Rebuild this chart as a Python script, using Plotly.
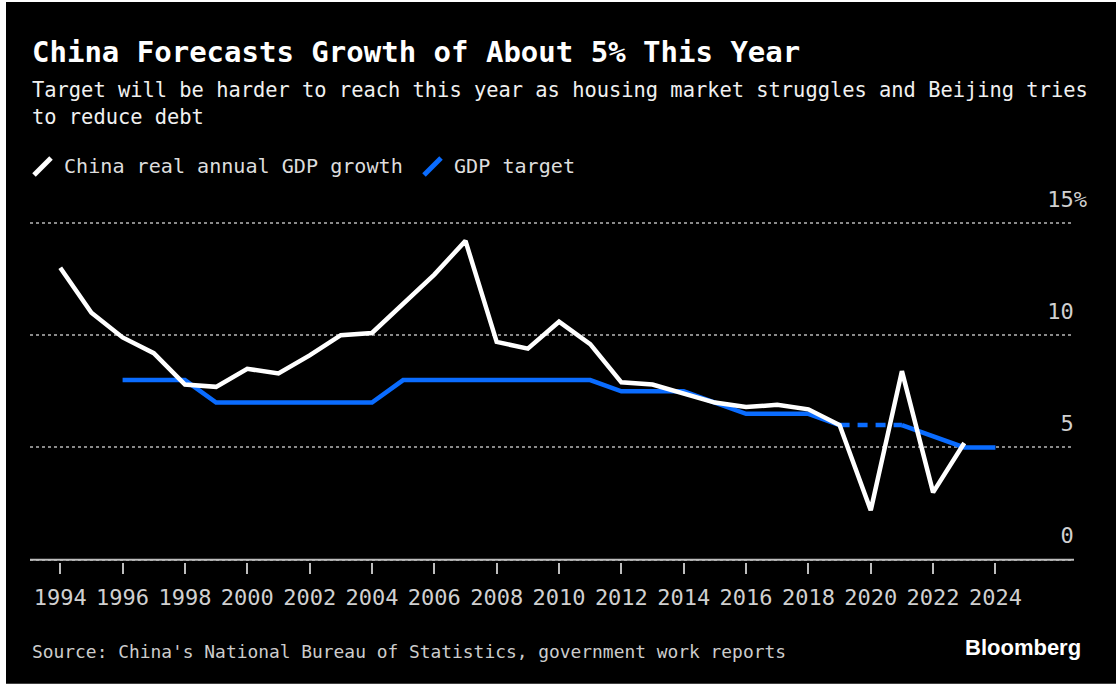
import plotly.graph_objects as go

# ---- data -------------------------------------------------------------
growth_years = list(range(1994, 2024))
gdp_growth = [13.0, 11.0, 9.9, 9.2, 7.8, 7.7, 8.5, 8.3, 9.1, 10.0,
              10.1, 11.4, 12.7, 14.2, 9.7, 9.4, 10.6, 9.6, 7.9, 7.8,
              7.4, 7.0, 6.8, 6.9, 6.7, 6.0, 2.2, 8.4, 3.0, 5.2]

target_years = list(range(1996, 2025))
gdp_target = [8.0, 8.0, 8.0, 7.0, 7.0, 7.0, 7.0, 7.0, 7.0, 8.0,
              8.0, 8.0, 8.0, 8.0, 8.0, 8.0, 7.5, 7.5, 7.5, 7.0,
              6.5, 6.5, 6.5, 6.0, None, 6.0, 5.5, 5.0, 5.0]

x_tick_vals = list(range(1994, 2025, 2))
y_tick_vals = [0, 5, 10, 15]
y_tick_text = ["0\u00a0", "5\u00a0", "10\u00a0", "15%"]

TITLE = "China Forecasts Growth of About 5% This Year"
SUBTITLE = ("Target will be harder to reach this year as housing market struggles and Beijing tries"
            "<br>to reduce debt")
SOURCE = "Source: China's National Bureau of Statistics, government work reports"
LEGEND_NAMES = ["China real annual GDP growth", "GDP target"]

# ---- styling ----------------------------------------------------------
W, H = 1119, 685
Y_MIN, Y_MAX = -0.1, 17.0
PX_PER_UNIT = 22.47
ZERO_Y = 560
PLOT_L, PLOT_R = 30, 1074
PLOT_T = ZERO_Y - Y_MAX * PX_PER_UNIT
PLOT_B = ZERO_Y - Y_MIN * PX_PER_UNIT
BLUE = "#0a6cff"
WHITE = "#ffffff"
MONO = "DejaVu Sans Mono"


def px(xp):
    return (xp - PLOT_L) / (PLOT_R - PLOT_L)


def py(yp):
    return (PLOT_B - yp) / (PLOT_B - PLOT_T)


# bridge across missing target years with a dotted segment
gap_x, gap_y = [], []
for i, v in enumerate(gdp_target):
    if v is None:
        j = i + 1
        while gdp_target[j] is None:
            j += 1
        gap_x = [target_years[i - 1], target_years[j]]
        gap_y = [gdp_target[i - 1], gdp_target[j]]

fig = go.Figure()
fig.add_trace(go.Scatter(x=target_years, y=gdp_target, mode="lines",
                         line=dict(color=BLUE, width=4.5), connectgaps=False,
                         name=LEGEND_NAMES[1], showlegend=False))
fig.add_trace(go.Scatter(x=gap_x, y=gap_y, mode="lines",
                         line=dict(color=BLUE, width=4.5, dash="10px,8px"),
                         showlegend=False))
fig.add_trace(go.Scatter(x=growth_years, y=gdp_growth, mode="lines",
                         line=dict(color=WHITE, width=4.5),
                         name=LEGEND_NAMES[0], showlegend=False))

shapes = [
    # dark card over white page edge
    dict(type="rect", xref="paper", yref="paper", layer="below",
         x0=px(6), x1=px(1116), y0=py(684), y1=py(2),
         fillcolor="#000000", line=dict(width=0)),
    # x axis baseline at zero
    dict(type="line", xref="paper", yref="y", x0=0, x1=1, y0=0, y1=0,
         line=dict(color="#bdbdbd", width=2)),
    # legend swatches (slanted strokes)
    dict(type="line", xref="paper", yref="paper",
         x0=px(34), y0=py(175), x1=px(51), y1=py(158),
         line=dict(color=WHITE, width=5)),
    dict(type="line", xref="paper", yref="paper",
         x0=px(424), y0=py(175), x1=px(441), y1=py(158),
         line=dict(color=BLUE, width=5)),
]

annotations = [
    dict(text=f"<b>{TITLE}</b>", x=px(30), y=py(52), xanchor="left", yanchor="middle",
         font=dict(family=MONO, size=29, color=WHITE)),
    dict(text=SUBTITLE, x=px(30), y=py(103), xanchor="left", yanchor="middle", align="left",
         font=dict(family=MONO, size=20.4, color="#f0f0f0")),
    dict(text=LEGEND_NAMES[0], x=px(62), y=py(166), xanchor="left", yanchor="middle",
         font=dict(family=MONO, size=20.1, color="#dddddd")),
    dict(text=LEGEND_NAMES[1], x=px(452), y=py(166), xanchor="left", yanchor="middle",
         font=dict(family=MONO, size=20.1, color="#dddddd")),
    dict(text=SOURCE, x=px(30), y=py(652), xanchor="left", yanchor="middle",
         font=dict(family=MONO, size=17.9, color="#cccccc")),
    dict(text="<b>Bloomberg</b>", x=px(1083), y=py(648), xanchor="right", yanchor="middle",
         font=dict(family="Liberation Sans", size=22, color=WHITE)),
]
for a in annotations:
    a.update(xref="paper", yref="paper", showarrow=False)

fig.update_layout(
    width=W, height=H,
    margin=dict(l=PLOT_L, r=W - PLOT_R, t=PLOT_T, b=H - PLOT_B, pad=0),
    paper_bgcolor="#ffffff", plot_bgcolor="rgba(0,0,0,0)",
    shapes=shapes, annotations=annotations, showlegend=False,
    xaxis=dict(range=[1993.03, 2026.52], tickvals=x_tick_vals,
               showgrid=False, zeroline=False, showline=False,
               ticks="outside", ticklen=11, tickwidth=2, tickcolor="#bdbdbd",
               tickfont=dict(family=MONO, size=22, color="#d0d0d0"),
               ticklabelstandoff=5),
    yaxis=dict(range=[Y_MIN, Y_MAX], tickvals=y_tick_vals, ticktext=y_tick_text,
               side="right", ticklabelposition="inside", ticklabelstandoff=-16,
               ticklabelshift=-24, ticks="",
               showgrid=True, gridcolor="#8a8a8a", gridwidth=1.5, griddash="dot",
               zeroline=False, showline=False,
               tickfont=dict(family=MONO, size=22, color="#d0d0d0")),
)

fig.write_html("out.html")
